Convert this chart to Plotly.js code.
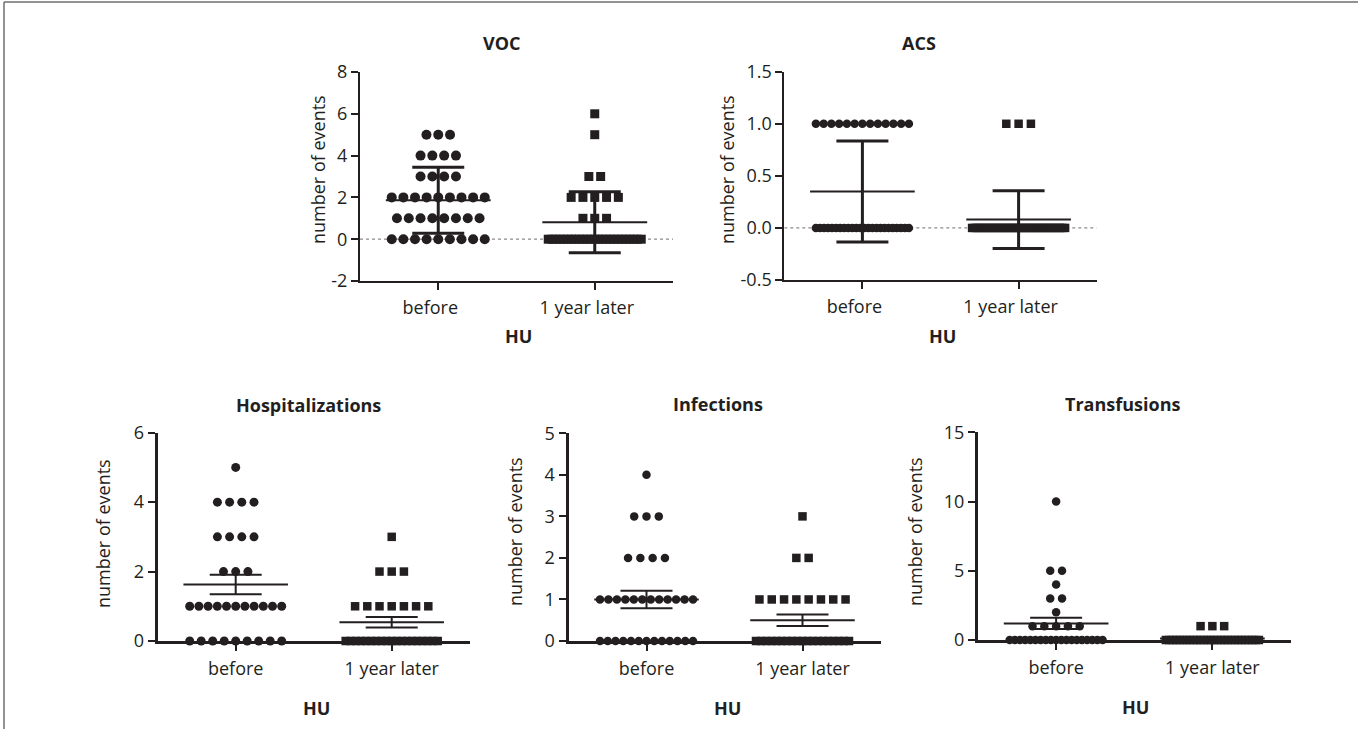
<!DOCTYPE html>
<html>
<head>
<meta charset="utf-8">
<script src="https://cdn.plot.ly/plotly-3.0.1.min.js"></script>
<style>
  html, body { margin: 0; padding: 0; background: #fff; }
  #chart { width: 1358px; height: 729px; }
</style>
</head>
<body>
<div id="chart"></div>
<script>
// ---------------- DATA ----------------
const categories = ['before', '1 year later'];
const groupLabel = 'HU';
const yAxisLabel = 'number of events';

// VOC (mean ± SD)
const vocBefore = [0,0,0,0,0,0,0,0,0, 1,1,1,1,1,1,1,1, 2,2,2,2,2,2,2,2,2, 3,3,3,3, 4,4,4,4, 5,5,5];
const vocLater  = [0,0,0,0,0,0,0,0,0,0,0,0,0,0,0,0,0,0,0,0,0,0,0,0,0, 1,1,1, 2,2,2,2,2, 3,3, 5, 6];
const vocMean = [1.86, 0.81];
const vocSD   = [1.58, 1.46];

// ACS (mean ± SD)
const acsBefore = [0,0,0,0,0,0,0,0,0,0,0,0,0,0,0,0,0,0,0,0,0,0,0,0, 1,1,1,1,1,1,1,1,1,1,1,1,1];
const acsLater  = [0,0,0,0,0,0,0,0,0,0,0,0,0,0,0,0,0,0,0,0,0,0,0,0,0,0,0,0,0,0,0,0,0,0, 1,1,1];
const acsMean = [0.35, 0.08];
const acsSD   = [0.485, 0.278];

// Hospitalizations (mean ± SEM)
const hospBefore = [0,0,0,0,0,0,0,0,0, 1,1,1,1,1,1,1,1,1,1,1, 2,2,2, 3,3,3,3, 4,4,4,4, 5];
const hospLater  = [0,0,0,0,0,0,0,0,0,0,0,0,0,0,0,0,0,0,0, 1,1,1,1,1,1,1, 2,2,2, 3];
const hospMean = [1.63, 0.54];
const hospSEM  = [0.28, 0.15];

// Infections (mean ± SEM)
const infBefore = [0,0,0,0,0,0,0,0,0,0,0,0,0, 1,1,1,1,1,1,1,1,1,1,1,1, 2,2,2,2, 3,3,3, 4];
const infLater  = [0,0,0,0,0,0,0,0,0,0,0,0,0,0,0,0,0,0,0, 1,1,1,1,1,1,1,1, 2,2, 3];
const infMean = [1.0, 0.5];
const infSEM  = [0.21, 0.14];

// Transfusions (mean ± SEM)
const transBefore = [0,0,0,0,0,0,0,0,0,0,0,0,0,0,0,0,0,0,0, 1,1,1,1,1, 2, 3,3, 4, 5,5, 10];
const transLater  = [0,0,0,0,0,0,0,0,0,0,0,0,0,0,0,0,0,0,0,0,0,0,0,0,0,0,0,0, 1,1,1];
const transMean = [1.2, 0.1];
const transSEM  = [0.41, 0.05];

// ---------------- LAYOUT / STYLE ----------------
const W = 1358, H = 729;
const INK = '#231f20';
const FONT = 'Open Sans, Noto Sans, sans-serif';

const panels = [
  { title: 'VOC', groups: [vocBefore, vocLater], mean: vocMean, err: vocSD,
    px: [360, 673], py: [72, 281], range: [-2, 8], tickvals: [-2,0,2,4,6,8], dec: 0,
    dotted: true, lw: 2, ew: 3, circle: 10, square: 9, base: 11.8, maxSpan: 93,
    titlePos: [502, 43], huPos: [518, 336], ylabPos: [318, 170], labShift: -8 },
  { title: 'ACS', groups: [acsBefore, acsLater], mean: acsMean, err: acsSD,
    px: [784.3, 1096.7], py: [71.7, 280], range: [-0.5, 1.5], tickvals: [-0.5,0,0.5,1,1.5], dec: 1,
    dotted: true, lw: 2, ew: 3, circle: 8.5, square: 8.5, base: 12.3, maxSpan: 93,
    titlePos: [919, 43], huPos: [942, 336], ylabPos: [727, 170], labShift: -8 },
  { title: 'Hospitalizations', groups: [hospBefore, hospLater], mean: hospMean, err: hospSEM,
    px: [157.7, 469.7], py: [432.7, 641], range: [0, 6], tickvals: [0,2,4,6], dec: 0,
    dotted: false, lw: 3, ew: 2, circle: 9, square: 8.5, base: 12.2, maxSpan: 92,
    titlePos: [308, 405], huPos: [316, 708], ylabPos: [103, 533], labShift: 0 },
  { title: 'Infections', groups: [infBefore, infLater], mean: infMean, err: infSEM,
    px: [568.5, 880.5], py: [433.3, 641], range: [0, 5], tickvals: [0,1,2,3,4,5], dec: 0,
    dotted: false, lw: 3, ew: 2, circle: 8.5, square: 8.5, base: 12.3, maxSpan: 93,
    titlePos: [718, 404], huPos: [727.5, 708], ylabPos: [515, 532], labShift: 0 },
  { title: 'Transfusions', groups: [transBefore, transLater], mean: transMean, err: transSEM,
    px: [978, 1290.5], py: [432.3, 640], range: [0, 15], tickvals: [0,5,10,15], dec: 0,
    dotted: false, lw: 3, ew: 2, circle: 8.5, square: 8.5, base: 11.8, maxSpan: 93,
    titlePos: [1122, 404], huPos: [1135.5, 707], ylabPos: [915, 532], labShift: 0 }
];

const XRANGE = [-0.5, 1.5];
const MEAN_HALF = 0.335;   // half width of the mean line, in category units
const CAP_HALF = 26;       // half width of the error caps, px

// spread equal values side by side (as a scatter dot plot does)
function spreadOffsets(values, pxPerUnit, base, maxSpan) {
  const counts = {}, seen = {};
  values.forEach(v => { counts[v] = (counts[v] || 0) + 1; });
  return values.map(v => {
    const k = counts[v];
    const j = seen[v] === undefined ? 0 : seen[v] + 1;
    seen[v] = j;
    const s = k > 1 ? Math.min(base, maxSpan / (k - 1)) : 0;
    return (j - (k - 1) / 2) * s / pxPerUnit;
  });
}

const traces = [];
const layout = {
  width: W, height: H,
  margin: { l: 0, r: 0, t: 0, b: 0, pad: 0 },
  paper_bgcolor: '#ffffff', plot_bgcolor: 'rgba(0,0,0,0)',
  showlegend: false,
  font: { family: FONT, size: 18, color: INK },
  shapes: [], annotations: []
};

panels.forEach((p, i) => {
  const n = i === 0 ? '' : String(i + 1);
  const xa = 'x' + n, ya = 'y' + n;
  const pxPerUnit = (p.px[1] - p.px[0]) / (XRANGE[1] - XRANGE[0]);

  layout['xaxis' + n] = {
    domain: [p.px[0] / W, p.px[1] / W], anchor: ya, range: XRANGE,
    tickvals: [0, 1], ticktext: categories,
    showgrid: false, zeroline: false, showline: true, linecolor: INK, linewidth: p.lw,
    ticks: 'outside', ticklen: 7, tickwidth: 2, tickcolor: INK,
    tickfont: { family: FONT, size: 18, color: INK },
    ticklabelshift: p.labShift, ticklabelstandoff: 2,
    fixedrange: true
  };
  layout['yaxis' + n] = {
    domain: [1 - p.py[1] / H, 1 - p.py[0] / H], anchor: xa, range: p.range,
    tickvals: p.tickvals, ticktext: p.tickvals.map(v => v.toFixed(p.dec)),
    showgrid: false, zeroline: false, showline: true, linecolor: INK, linewidth: p.lw,
    ticks: 'outside', ticklen: 7, tickwidth: 2, tickcolor: INK,
    tickfont: { family: FONT, size: 18, color: INK },
    fixedrange: true
  };

  if (p.dotted) {
    layout.shapes.push({ type: 'line', xref: xa, yref: ya, x0: XRANGE[0], x1: XRANGE[1], y0: 0, y1: 0,
      line: { color: '#8a8a8a', width: 1.2, dash: 'dot' }, layer: 'below' });
  }

  // points
  p.groups.forEach((vals, g) => {
    const offs = spreadOffsets(vals, pxPerUnit, p.base, p.maxSpan);
    traces.push({
      type: 'scatter', mode: 'markers', xaxis: xa, yaxis: ya,
      x: vals.map((v, k) => g + offs[k]), y: vals,
      marker: { symbol: g === 0 ? 'circle' : 'square', size: g === 0 ? p.circle : p.square,
                color: INK, line: { width: 0 } },
      cliponaxis: false, hoverinfo: 'skip'
    });
  });

  // mean lines
  p.mean.forEach((m, g) => {
    traces.push({
      type: 'scatter', mode: 'lines', xaxis: xa, yaxis: ya,
      x: [g - MEAN_HALF, g + MEAN_HALF], y: [m, m],
      line: { color: INK, width: 2 }, cliponaxis: false, hoverinfo: 'skip'
    });
  });

  // error bars
  traces.push({
    type: 'scatter', mode: 'markers', xaxis: xa, yaxis: ya,
    x: [0, 1], y: p.mean,
    marker: { size: 1, color: 'rgba(0,0,0,0)' },
    error_y: { type: 'data', array: p.err, symmetric: true, visible: true,
               color: INK, thickness: p.ew, width: CAP_HALF },
    cliponaxis: false, hoverinfo: 'skip'
  });

  // texts
  layout.annotations.push({ xref: 'paper', yref: 'paper', x: p.titlePos[0] / W, y: 1 - p.titlePos[1] / H,
    text: '<b>' + p.title + '</b>', showarrow: false, xanchor: 'center', yanchor: 'middle',
    font: { family: FONT, size: 18, color: INK } });
  layout.annotations.push({ xref: 'paper', yref: 'paper', x: p.huPos[0] / W, y: 1 - p.huPos[1] / H,
    text: '<b>' + groupLabel + '</b>', showarrow: false, xanchor: 'center', yanchor: 'middle',
    font: { family: FONT, size: 18, color: INK } });
  layout.annotations.push({ xref: 'paper', yref: 'paper', x: p.ylabPos[0] / W, y: 1 - p.ylabPos[1] / H,
    text: yAxisLabel, textangle: -90, showarrow: false, xanchor: 'center', yanchor: 'middle',
    font: { family: FONT, size: 18, color: INK } });
});

// outer frame (top and left edges visible)
layout.shapes.push({ type: 'line', xref: 'paper', yref: 'paper', x0: 4 / W, x1: 1, y0: 1 - 2 / H, y1: 1 - 2 / H,
  line: { color: '#6d6e71', width: 1.5 } });
layout.shapes.push({ type: 'line', xref: 'paper', yref: 'paper', x0: 4 / W, x1: 4 / W, y0: 0, y1: 1 - 2 / H,
  line: { color: '#6d6e71', width: 1.5 } });

Plotly.newPlot('chart', traces, layout, { staticPlot: true, displayModeBar: false });
</script>
</body>
</html>
